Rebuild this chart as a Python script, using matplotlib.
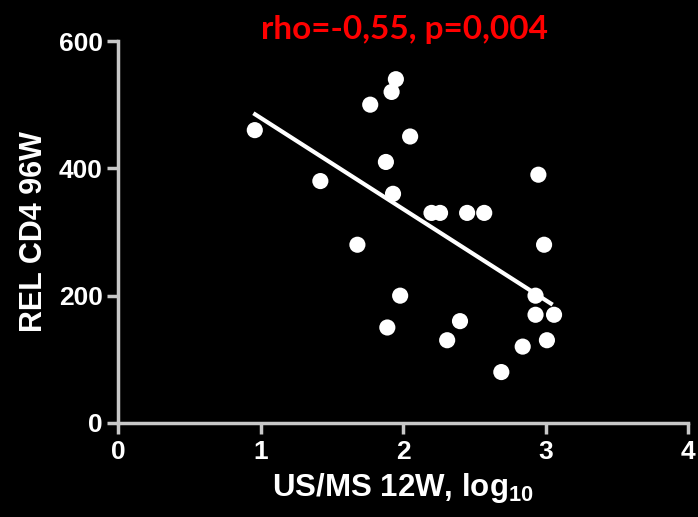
import numpy as np
import matplotlib
matplotlib.use("Agg")
import matplotlib.pyplot as plt

x_vals = [0.96, 1.42, 1.68, 1.77, 1.92, 1.95, 1.88, 1.93, 2.05, 1.89, 1.98,
          2.20, 2.26, 2.45, 2.57, 2.31, 2.40, 2.69, 2.84, 2.95, 2.99, 2.93,
          2.93, 3.06, 3.01]
y_vals = [460, 380, 280, 500, 520, 540, 410, 360, 450, 150, 200,
          330, 330, 330, 330, 130, 160, 80, 120, 390, 280, 200,
          170, 170, 130]
x_ticks = [0, 1, 2, 3, 4]
y_ticks = [0, 200, 400, 600]
title_text = "rho=-0,55, p=0,004"
x_label = r"US/MS 12W, log$_{\mathbf{10}}$"
y_label = "REL CD4 96W"

plt.rcParams['mathtext.fontset'] = 'custom'
plt.rcParams['mathtext.rm'] = 'Liberation Sans:bold'
plt.rcParams['mathtext.bf'] = 'Liberation Sans:bold'

fig = plt.figure(figsize=(6.98, 5.17), dpi=100, facecolor='black')
ax = fig.add_axes([118/698, (517-423)/517, (688-118)/698, (423-41)/517])
ax.set_facecolor('black')

axcol = '#c8c8c8'
ax.scatter(x_vals, y_vals, s=135, color='white', edgecolors='none', zorder=3, clip_on=False)

xa = np.array(x_vals); ya = np.array(y_vals)
m, b = np.polyfit(xa, ya, 1)
xl = np.array([xa.min() - 0.01, xa.max() - 0.01])
ax.plot(xl, m * xl + b, color='white', lw=3, solid_capstyle='butt', zorder=2)

ax.set_xlim(0, 4)
ax.set_ylim(0, 600)
ax.set_xticks(x_ticks)
ax.set_yticks(y_ticks)
for s in ['top', 'right']:
    ax.spines[s].set_visible(False)
for s in ['left', 'bottom']:
    ax.spines[s].set_color(axcol)
    ax.spines[s].set_linewidth(2.5)
ax.tick_params(colors=axcol, width=2.5, length=8, direction='out')
for lab in ax.get_xticklabels() + ax.get_yticklabels():
    lab.set_fontfamily('Liberation Sans')
    lab.set_fontweight('bold')
    lab.set_fontsize(19)
    lab.set_color('white')
ax.tick_params(axis='x', pad=4)
ax.tick_params(axis='y', pad=3)

ax.set_xlabel(x_label, fontfamily='Liberation Sans', fontweight='bold', fontsize=22.5,
              color='white', labelpad=5)
ax.set_ylabel(y_label, fontfamily='Liberation Sans', fontweight='bold', fontsize=22,
              color='white', labelpad=7)
fig.text(405/698, 1 - 29/517, title_text, ha='center', va='center', color='#ff0000',
         fontfamily='Lato', fontweight='bold', fontsize=24)

fig.savefig('out.png', dpi=100, facecolor='black')
